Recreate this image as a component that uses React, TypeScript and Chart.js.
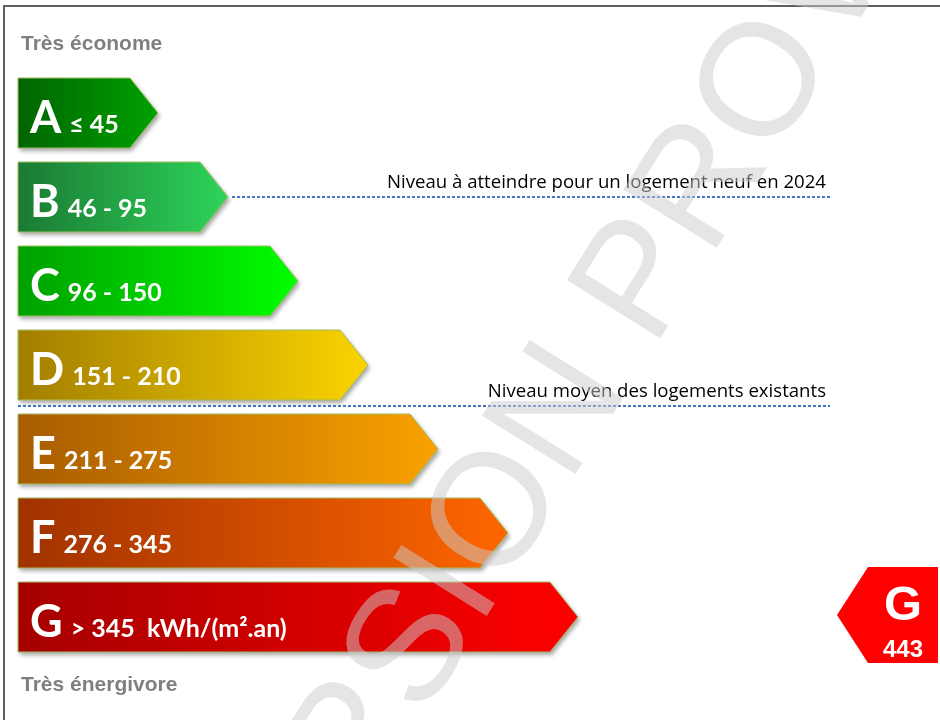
import { useEffect, useRef } from "react";
import { Chart, registerables } from "chart.js";

Chart.register(...registerables);

// ---- Data ----
const classes = ["A", "B", "C", "D", "E", "F", "G"];
const ranges = ["≤ 45", "46 - 95", "96 - 150", "151 - 210", "211 - 275", "276 - 345", "> 345  kWh/(m².an)"];
const barLengths = [2, 3, 4, 5, 6, 7, 8];
const gradientStart = ["#006400", "#1a7a32", "#00a000", "#a27e00", "#a85c00", "#a03200", "#a50000"];
const gradientEnd = ["#00a200", "#2ed45a", "#00ff00", "#fad400", "#faa200", "#ff6600", "#ff0000"];
const currentClass = "G";
const currentValue = 443;
const topLabel = "Très économe";
const bottomLabel = "Très énergivore";
const newBuildLabel = "Niveau à atteindre pour un logement neuf en 2024";
const newBuildClass = "B";
const averageLabel = "Niveau moyen des logements existants";
const averageBetween = ["D", "E"];
const watermark = "VERSION PROVISOIRE";

const dpePlugin = {
  id: "dpe",
  beforeDraw(chart: any) {
    const ctx = chart.ctx;
    ctx.save();
    ctx.fillStyle = "#ffffff";
    ctx.fillRect(0, 0, chart.width, chart.height);
    // frame
    ctx.strokeStyle = "#5e5e5e";
    ctx.lineWidth = 2;
    ctx.beginPath();
    ctx.moveTo(4, chart.height);
    ctx.lineTo(4, 6);
    ctx.lineTo(chart.width, 6);
    ctx.stroke();
    ctx.restore();
  },
  afterDatasetsDraw(chart: any) {
    const ctx = chart.ctx;
    const meta = chart.getDatasetMeta(0);
    const yScale = chart.scales.y;
    const depth = 28;

    // bars
    meta.data.forEach((el: any, i: number) => {
      const { x, y, base, height } = el.getProps(["x", "y", "base", "height"], true);
      const top = y - height / 2;
      const bottom = y + height / 2;
      const g = ctx.createLinearGradient(base, 0, x, 0);
      g.addColorStop(0, gradientStart[i]);
      g.addColorStop(1, gradientEnd[i]);
      ctx.save();
      ctx.beginPath();
      ctx.moveTo(base, top);
      ctx.lineTo(x - depth, top);
      ctx.lineTo(x, y);
      ctx.lineTo(x - depth, bottom);
      ctx.lineTo(base, bottom);
      ctx.closePath();
      ctx.shadowColor = "rgba(0,0,0,0.35)";
      ctx.shadowBlur = 4;
      ctx.shadowOffsetX = 2;
      ctx.shadowOffsetY = 3;
      ctx.fillStyle = g;
      ctx.fill();
      ctx.shadowColor = "rgba(0,0,0,0)";
      ctx.strokeStyle = "#a3be62";
      ctx.lineWidth = 1;
      ctx.stroke();
      // text
      ctx.fillStyle = "#ffffff";
      ctx.textBaseline = "alphabetic";
      ctx.textAlign = "left";
      ctx.font = "bold 45px Lato";
      const lx = base + 12;
      const ly = bottom - 15;
      ctx.fillText(classes[i], lx, ly);
      const w = ctx.measureText(classes[i]).width;
      ctx.font = "bold 25px Lato";
      ctx.fillText(ranges[i], lx + w + 8, ly);
      ctx.restore();
    });

    // side labels
    const firstY = yScale.getPixelForValue(0);
    const lastY = yScale.getPixelForValue(classes.length - 1);
    ctx.save();
    ctx.fillStyle = "#7f7f7f";
    ctx.font = "bold 21px 'Liberation Sans'";
    ctx.textAlign = "left";
    ctx.fillText(topLabel, 21, firstY - 63);
    ctx.fillText(bottomLabel, 21, lastY + 74);
    ctx.restore();

    // reference lines
    const lineEnd = 830;
    const drawRef = (x0: number, y: number, label: string) => {
      ctx.save();
      ctx.strokeStyle = "#4472c4";
      ctx.lineWidth = 2;
      ctx.setLineDash([3, 2]);
      ctx.beginPath();
      ctx.moveTo(x0, y);
      ctx.lineTo(lineEnd, y);
      ctx.stroke();
      ctx.setLineDash([]);
      ctx.fillStyle = "#000000";
      ctx.font = "18.6px 'Open Sans'";
      ctx.textAlign = "right";
      ctx.fillText(label, lineEnd - 4, y - 9);
      ctx.restore();
    };
    const bi = classes.indexOf(newBuildClass);
    const bEl = meta.data[bi];
    drawRef(bEl.x + 4, yScale.getPixelForValue(bi), newBuildLabel);
    const d0 = classes.indexOf(averageBetween[0]);
    const d1 = classes.indexOf(averageBetween[1]);
    const yAvg = (yScale.getPixelForValue(d0) + yScale.getPixelForValue(d1)) / 2 - 1;
    drawRef(meta.data[d0].base, yAvg, averageLabel);

    // current indicator
    const ci = classes.indexOf(currentClass);
    const cy = yScale.getPixelForValue(ci) - 2;
    const half = 48;
    ctx.save();
    ctx.fillStyle = "#ff0000";
    ctx.beginPath();
    ctx.moveTo(837, cy);
    ctx.lineTo(868, cy - half);
    ctx.lineTo(938, cy - half);
    ctx.lineTo(938, cy + half);
    ctx.lineTo(868, cy + half);
    ctx.closePath();
    ctx.fill();
    ctx.fillStyle = "#ffffff";
    ctx.textAlign = "center";
    ctx.font = "bold 49px 'Liberation Sans'";
    ctx.fillText(currentClass, 903, cy + 5);
    ctx.font = "bold 24px 'Liberation Sans'";
    ctx.fillText(String(currentValue), 903, cy + 42);
    ctx.restore();

    // watermark
    ctx.save();
    ctx.translate(248, 998);
    ctx.rotate((-58 * Math.PI) / 180);
    ctx.fillStyle = "rgba(204,204,204,0.5)";
    ctx.font = "160px 'Liberation Sans'";
    ctx.textAlign = "left";
    ctx.textBaseline = "alphabetic";
    ctx.fillText(watermark, 0, 0);
    ctx.restore();
  },
};

export default function App() {
  const ref = useRef<HTMLCanvasElement>(null);
  useEffect(() => {
    document.body.style.margin = "0";
    if (!ref.current) return;
    const chart = new Chart(ref.current, {
      type: "bar",
      data: {
        labels: classes,
        datasets: [
          {
            data: barLengths,
            backgroundColor: "rgba(0,0,0,0)",
            borderWidth: 0,
            barPercentage: 1,
            categoryPercentage: 70 / 84,
          },
        ],
      },
      options: {
        indexAxis: "y",
        animation: false,
        responsive: false,
        devicePixelRatio: 1,
        layout: { padding: { top: 71, bottom: 61, left: 18, right: 12 } },
        scales: {
          x: { type: "linear", min: 0, max: 13, display: false },
          y: { display: false },
        },
        plugins: { legend: { display: false }, tooltip: { enabled: false } },
        events: [],
      },
      plugins: [dpePlugin],
    } as any);
    return () => chart.destroy();
  }, []);
  return <canvas ref={ref} width={940} height={720} style={{ display: "block" }} />;
}
